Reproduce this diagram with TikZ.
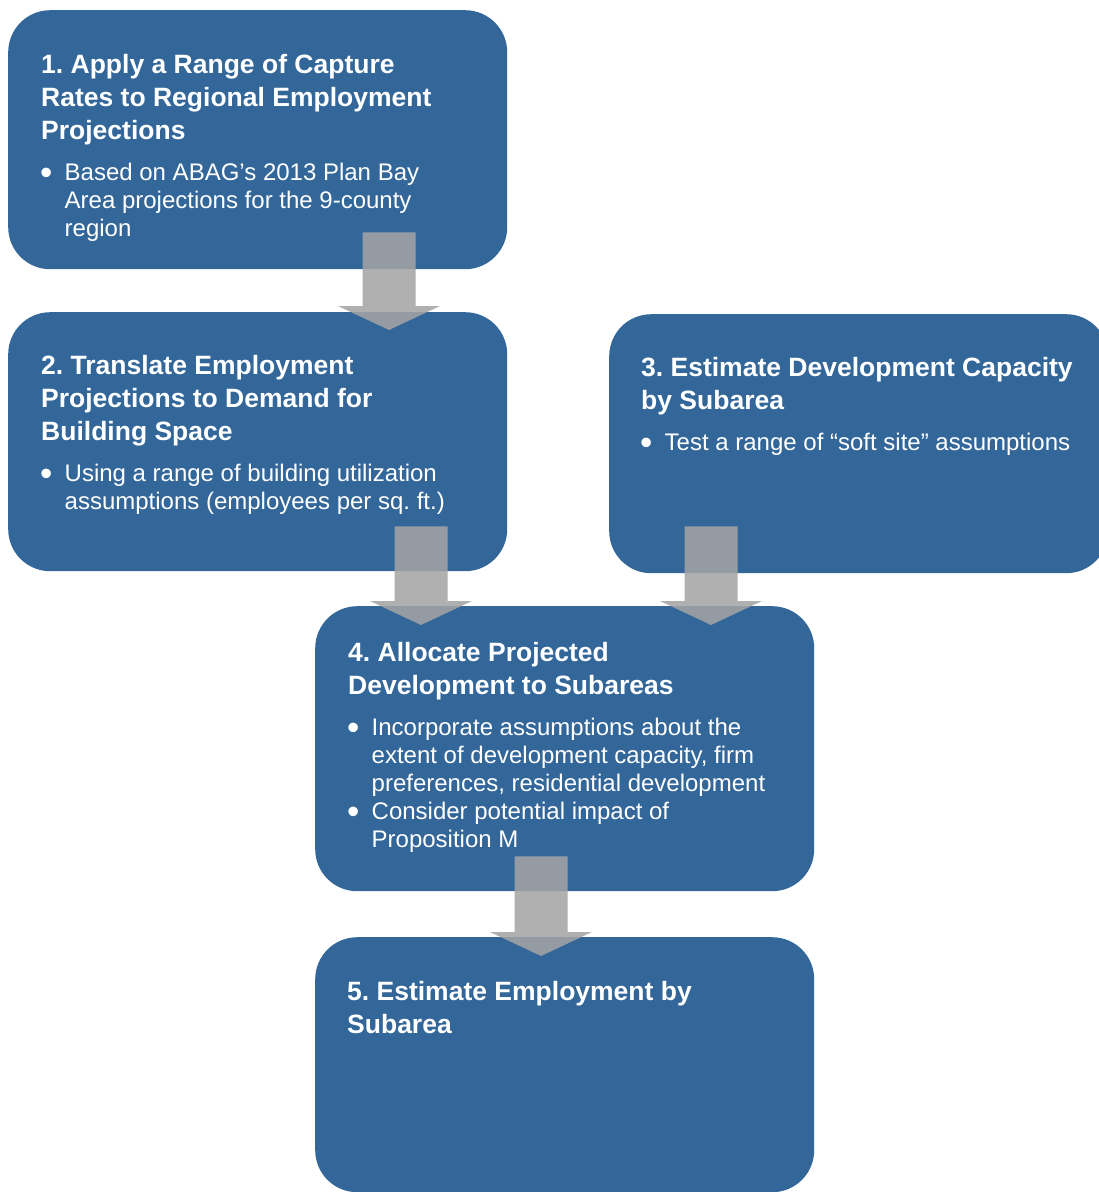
\documentclass[tikz,border=0pt]{standalone}
\usepackage{fontspec}
\setmainfont{Liberation Sans}
\usetikzlibrary{calc}

\definecolor{boxblue}{RGB}{51,102,153}
\definecolor{flowgray}{RGB}{164,164,164}

\tikzset{
    stepbox/.style={rectangle, rounded corners=42pt, fill=boxblue, anchor=north west,
        minimum width=499pt, minimum height=259pt, inner sep=0pt},
    % base anchor of a multi-line node sits on its last line
    heading/.style={anchor=base west, align=left, text=white, inner sep=0pt,
        font=\fontsize{26.5}{33}\selectfont\bfseries},
    bullets/.style={anchor=base west, align=left, text=white, inner sep=0pt,
        font=\fontsize{24}{28}\selectfont},
    flow/.style={fill=flowgray, fill opacity=0.87}
}
% a larger bullet, kept on the text's middle
\newcommand{\bul}{\makebox[23.5pt][l]{\hspace*{-1pt}\raisebox{-4pt}{\fontsize{35}{28}\selectfont\textbullet}}}
\newcommand{\hang}{\hspace*{23.5pt}}

\begin{document}
\frenchspacing
\begin{tikzpicture}[x=1pt, y=1pt]
    \useasboundingbox (0,0) rectangle (1099,-1192);

    % the five steps
    \node[stepbox] (b1) at (8,-10) {};
    \node[stepbox] (b2) at (8,-312) {};
    \node[stepbox] (b3) at (609,-314) {};
    \node[stepbox, minimum height=285pt] (b4) at (315,-606) {};
    \node[stepbox, minimum height=255pt] (b5) at (315,-937) {};

    \node[heading] (h1) at ([shift={(33,-129)}]b1.north west)
        {1. Apply a Range of Capture\\Rates to Regional Employment\\Projections};
    \node[bullets] (t1) at ([shift={(33,-226)}]b1.north west)
        {\bul Based on ABAG’s 2013 Plan Bay\\\hang Area projections for the 9-county\\\hang region};

    \node[heading] (h2) at ([shift={(33,-128)}]b2.north west)
        {2. Translate Employment\\Projections to Demand for\\Building Space};
    \node[bullets] (t2) at ([shift={(33,-197.5)}]b2.north west)
        {\bul Using a range of building utilization\\\hang assumptions (employees per sq. ft.)};

    \node[heading] (h3) at ([shift={(32,-95)}]b3.north west)
        {3. Estimate Development Capacity\\by Subarea};
    \node[bullets] (t3) at ([shift={(32,-136.5)}]b3.north west)
        {\bul Test a range of “soft site” assumptions};

    \node[heading] (h4) at ([shift={(33,-88)}]b4.north west)
        {4. Allocate Projected\\Development to Subareas};
    \node[bullets] (t4) at ([shift={(33,-241)}]b4.north west)
        {\bul Incorporate assumptions about the\\\hang extent of development capacity, firm\\\hang preferences, residential development\\
         \bul Consider potential impact of\\\hang Proposition M};

    \node[heading] (h5) at ([shift={(32,-96)}]b5.north west)
        {5. Estimate Employment by\\Subarea};

    % block arrows between the steps
    \coordinate (a1s) at ([shift={(381,37)}]b1.south west);
    \coordinate (a1t) at ([shift={(381,-18)}]b2.north west);
    \coordinate (a2s) at ([shift={(413,45)}]b2.south west);
    \coordinate (a2t) at ([shift={(106,-19)}]b4.north west);
    \coordinate (a3s) at ([shift={(102,47)}]b3.south west);
    \coordinate (a3t) at ([shift={(396,-19)}]b4.north west);
    \coordinate (a4s) at ([shift={(226,35)}]b4.south west);
    \coordinate (a4t) at ([shift={(226,-19)}]b5.north west);

    \foreach \s/\t in {a1s/a1t, a2s/a2t, a3s/a3t, a4s/a4t}
        \fill[flow] ($(\s)+(-26.5,0)$) -- ($(\s)+(26.5,0)$) -- ($(\t)+(26.5,24)$)
            -- ($(\t)+(51,24)$) -- (\t) -- ($(\t)+(-51,24)$) -- ($(\t)+(-26.5,24)$) -- cycle;
\end{tikzpicture}
\end{document}
